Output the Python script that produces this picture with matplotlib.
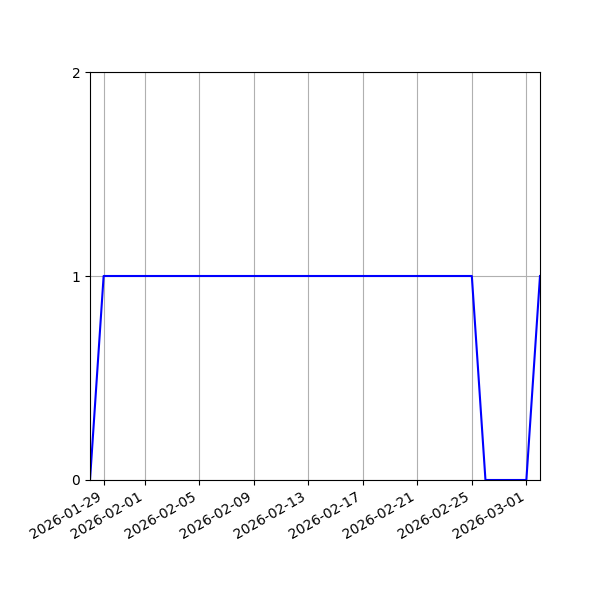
import pandas as pd
import matplotlib
matplotlib.use("Agg")
import matplotlib.pyplot as plt
import matplotlib.dates as mdates

# daily values 2026-01-28 .. 2026-03-02
dates = pd.date_range("2026-01-28", "2026-03-02", freq="D")
values = [0] + [1] * 28 + [0] * 4 + [1]

fig, ax = plt.subplots(figsize=(6, 6), dpi=100)
ax.plot(dates, values, color="blue")

ax.set_xlim(dates[0], dates[-1])
ax.set_ylim(0, 2)
ax.set_yticks([0, 1, 2])
ax.xaxis.set_major_locator(mdates.DayLocator(bymonthday=[1, 5, 9, 13, 17, 21, 25, 29]))
ax.xaxis.set_major_formatter(mdates.DateFormatter("%Y-%m-%d"))
ax.grid(True)

fig.autofmt_xdate()
fig.subplots_adjust(left=0.15)

plt.savefig("out.png")
plt.close()
